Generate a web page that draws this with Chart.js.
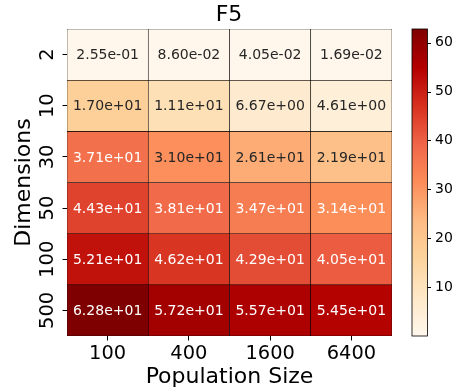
<!DOCTYPE html>
<html>
<head>
<meta charset="utf-8">
<script src="https://cdn.jsdelivr.net/npm/chart.js@4/dist/chart.umd.min.js"></script>
<style>
  html, body { margin: 0; padding: 0; background: #fff; }
  #wrap { width: 458px; height: 392px; }
</style>
</head>
<body>
<div id="wrap"><canvas id="heat" width="458" height="392"></canvas></div>
<script>
// Data (F5)
const popSizes = ['100', '400', '1600', '6400'];
const dimensions = ['2', '10', '30', '50', '100', '500'];
const dim2 = [0.255, 0.0860, 0.0405, 0.0169];
const dim10 = [17.0, 11.1, 6.67, 4.61];
const dim30 = [37.1, 31.0, 26.1, 21.9];
const dim50 = [44.3, 38.1, 34.7, 31.4];
const dim100 = [52.1, 46.2, 42.9, 40.5];
const dim500 = [62.8, 57.2, 55.7, 54.5];
const colorbarTicks = [10, 20, 30, 40, 50, 60];

const rows = [dim2, dim10, dim30, dim50, dim100, dim500];
const allValues = rows.flat();
const vmin = Math.min(...allValues);
const vmax = Math.max(...allValues);

// matplotlib OrRd
const orrd = ['#fff7ec', '#fee8c8', '#fdd49e', '#fdbb84', '#fc8d59', '#ef6548', '#d7301f', '#b30000', '#7f0000'];
const orrdRgb = orrd.map(h => [1, 3, 5].map(i => parseInt(h.substr(i, 2), 16)));

function cmap(v) {
    let t = (v - vmin) / (vmax - vmin);
    t = Math.min(Math.max(t, 0), 1);
    const idx = Math.min(Math.floor(t * 256), 255) / 255;  // 256-entry LUT
    const pos = idx * (orrdRgb.length - 1);
    const i = Math.min(Math.floor(pos), orrdRgb.length - 2);
    const f = pos - i;
    return orrdRgb[i].map((c, k) => c + (orrdRgb[i + 1][k] - c) * f);
}

function luminance(rgb) {
    const lin = rgb.map(c => {
        c = c / 255;
        return c <= 0.03928 ? c / 12.92 : Math.pow((c + 0.055) / 1.055, 2.4);
    });
    return 0.2126 * lin[0] + 0.7152 * lin[1] + 0.0722 * lin[2];
}

function fmt(v) {
    const parts = v.toExponential(2).split('e');
    const n = parseInt(parts[1], 10);
    return parts[0] + 'e' + (n < 0 ? '-' : '+') + String(Math.abs(n)).padStart(2, '0');
}

const rgbStr = c => 'rgb(' + c.map(Math.round).join(',') + ')';

const FONT = 'DejaVu Sans';
Chart.defaults.font.family = FONT;
Chart.defaults.color = '#000';

const datasets = rows.map((row, r) => ({
    label: dimensions[r],
    data: row.map(() => [r, r + 1]),
    values: row,
    backgroundColor: row.map(v => rgbStr(cmap(v))),
    borderColor: '#000',
    borderWidth: 0.6,
    borderSkipped: false,
    grouped: false,
    barPercentage: 1,
    categoryPercentage: 1
}));

// cell annotations
const annotatePlugin = {
    id: 'annotate',
    afterDatasetsDraw(chart) {
        const ctx = chart.ctx;
        ctx.save();
        ctx.font = '14px "' + FONT + '"';
        ctx.textAlign = 'center';
        ctx.textBaseline = 'middle';
        chart.data.datasets.forEach((ds, r) => {
            const meta = chart.getDatasetMeta(r);
            meta.data.forEach((bar, c) => {
                const v = ds.values[c];
                const p = bar.getCenterPoint();
                ctx.fillStyle = luminance(cmap(v)) > 0.408 ? '#262626' : '#ffffff';
                ctx.fillText(fmt(v), p.x, p.y + 1);
            });
        });
        ctx.restore();
    }
};

// colorbar drawn along the 'cb' scale
const colorbarPlugin = {
    id: 'colorbar',
    afterDraw(chart) {
        const cb = chart.scales.cb;
        const ctx = chart.ctx;
        const x0 = cb.left + 20;
        const w = 15.5;
        const yTop = cb.getPixelForValue(vmax);
        const yBot = cb.getPixelForValue(vmin);
        const grad = ctx.createLinearGradient(0, yBot, 0, yTop);
        orrd.forEach((c, i) => grad.addColorStop(i / (orrd.length - 1), c));
        ctx.save();
        ctx.fillStyle = grad;
        ctx.fillRect(x0, yTop, w, yBot - yTop);
        ctx.strokeStyle = '#000';
        ctx.lineWidth = 0.8;
        ctx.strokeRect(x0, yTop, w, yBot - yTop);
        ctx.lineWidth = 1;
        cb.ticks.forEach(t => {
            const y = Math.round(cb.getPixelForValue(t.value)) + 0.5;
            ctx.beginPath();
            ctx.moveTo(x0 + w, y);
            ctx.lineTo(x0 + w + 3.5, y);
            ctx.stroke();
        });
        ctx.restore();
    }
};

const noPad = s => {
    s.paddingTop = 0;
    s.paddingBottom = 0;
    s.paddingLeft = 0;
    s.paddingRight = 0;
};

new Chart(document.getElementById('heat'), {
    type: 'bar',
    data: {
        labels: popSizes,
        datasets: datasets
    },
    options: {
        responsive: false,
        animation: false,
        events: [],
        layout: { padding: 0 },
        plugins: {
            legend: { display: false },
            tooltip: { enabled: false },
            title: {
                display: true,
                text: 'F5',
                color: '#000',
                font: { size: 22, weight: 'normal' },
                padding: { top: 2.2, bottom: 0.4 }
            }
        },
        scales: {
            x: {
                type: 'category',
                offset: true,
                grid: { drawOnChartArea: false, drawTicks: true, tickLength: 4.5, color: '#000', offset: false },
                border: { display: false },
                ticks: { font: { size: 19.4 }, padding: 1.5, color: '#000' },
                title: {
                    display: true,
                    text: 'Population Size',
                    color: '#000',
                    font: { size: 22 },
                    padding: { top: 0, bottom: 2 }
                },
                afterFit: s => { s.height = 56; noPad(s); }
            },
            y: {
                type: 'linear',
                reverse: true,
                min: 0,
                max: dimensions.length,
                grid: { drawOnChartArea: false, drawTicks: true, tickLength: 4.5, color: '#000' },
                border: { display: false },
                afterBuildTicks: s => {
                    s.ticks = dimensions.map((d, i) => ({ value: i + 0.5 }));
                },
                ticks: {
                    font: { size: 19.4 },
                    color: '#000',
                    minRotation: 90,
                    maxRotation: 90,
                    crossAlign: 'center',
                    padding: -4,
                    callback: (v) => dimensions[Math.floor(v)]
                },
                title: {
                    display: true,
                    text: 'Dimensions',
                    color: '#000',
                    font: { size: 22 },
                    padding: { top: 10.8, bottom: 0 }
                },
                afterFit: s => { s.width = 67; noPad(s); }
            },
            cb: {
                type: 'linear',
                position: 'right',
                min: vmin,
                max: vmax,
                grid: { display: false, drawTicks: false },
                border: { display: false },
                afterBuildTicks: s => {
                    s.ticks = colorbarTicks.map(v => ({ value: v }));
                },
                ticks: { font: { size: 14 }, color: '#000', padding: 43 },
                afterFit: s => { s.width = 66; noPad(s); }
            }
        }
    },
    plugins: [annotatePlugin, colorbarPlugin]
});
</script>
</body>
</html>
